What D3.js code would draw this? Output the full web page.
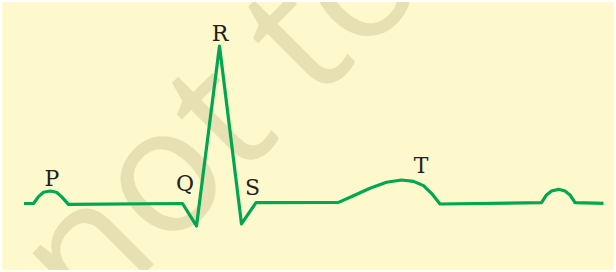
<!DOCTYPE html>
<html>
<head>
<meta charset="utf-8">
<script src="https://cdn.jsdelivr.net/npm/d3@7"></script>
<style>
  body { margin: 0; background: #ffffff; }
  .chart { width: 616px; height: 272px; }
</style>
</head>
<body>
<div class="chart"></div>
<script>
// ECG trace, time in ms and voltage in mV
const timeMs = [0, 19, 29, 39, 52, 65, 75, 89, 317, 345, 391, 435, 464, 629, 659, 692, 725, 755, 779, 799, 815, 832, 1035, 1045, 1055, 1069, 1082, 1092, 1102, 1159];
const voltMv = [0, 0, 0.065, 0.107, 0.119, 0.107, 0.065, -0.008, 0, -0.214, 1.5, -0.195, 0.008, 0.011, 0.074, 0.145, 0.202, 0.224, 0.211, 0.17, 0.097, -0.005, 0.008, 0.081, 0.119, 0.135, 0.119, 0.081, 0.008, 0.002];

// wave labels and where they sit (ms, mV)
const waveNames = ['P', 'Q', 'R', 'S', 'T'];
const waveTime = [56, 322, 392, 457, 794];
const waveVolt = [0.167, 0.119, 1.548, 0.081, 0.29];

function displayChart() {
  const w = 616;
  const h = 272;

  const xScale = d3.scaleLinear()
    .domain([0, 1160])
    .range([24, 604]);
  const yScale = d3.scaleLinear()
    .domain([0, 1.5])
    .range([203.5, 46]);

  const svg = d3.select('.chart')
    .append('svg')
    .attr('width', w)
    .attr('height', h);

  svg.append('rect')
    .attr('x', 2)
    .attr('y', 2)
    .attr('width', w - 4)
    .attr('height', h - 4)
    .attr('fill', '#fef9cc');

  // faint watermark, clipped to the panel
  svg.append('clipPath')
    .attr('id', 'panel')
    .append('rect')
    .attr('x', 2)
    .attr('y', 2)
    .attr('width', w - 4)
    .attr('height', h - 4);

  svg.append('g')
    .attr('clip-path', 'url(#panel)')
    .append('text')
    .attr('transform', 'translate(88, 330) rotate(-45)')
    .attr('font-family', 'Open Sans, DejaVu Sans, sans-serif')
    .attr('font-size', 175)
    .attr('fill', '#e7e0b2')
    .text('not to be');

  const line = d3.line()
    .x((d, i) => xScale(timeMs[i]))
    .y((d) => yScale(d));

  svg.append('path')
    .datum(voltMv)
    .attr('d', line)
    .attr('fill', 'none')
    .attr('stroke', '#00a650')
    .attr('stroke-width', 3.2)
    .attr('stroke-linejoin', 'round');

  svg.selectAll('.wave-label')
    .data(waveNames)
    .enter()
    .append('text')
    .attr('class', 'wave-label')
    .attr('x', (d, i) => xScale(waveTime[i]))
    .attr('y', (d, i) => yScale(waveVolt[i]))
    .attr('text-anchor', 'middle')
    .attr('font-family', 'DejaVu Serif, serif')
    .attr('font-size', 22)
    .attr('fill', '#231f20')
    .text((d) => d);
}

displayChart();
</script>
</body>
</html>
